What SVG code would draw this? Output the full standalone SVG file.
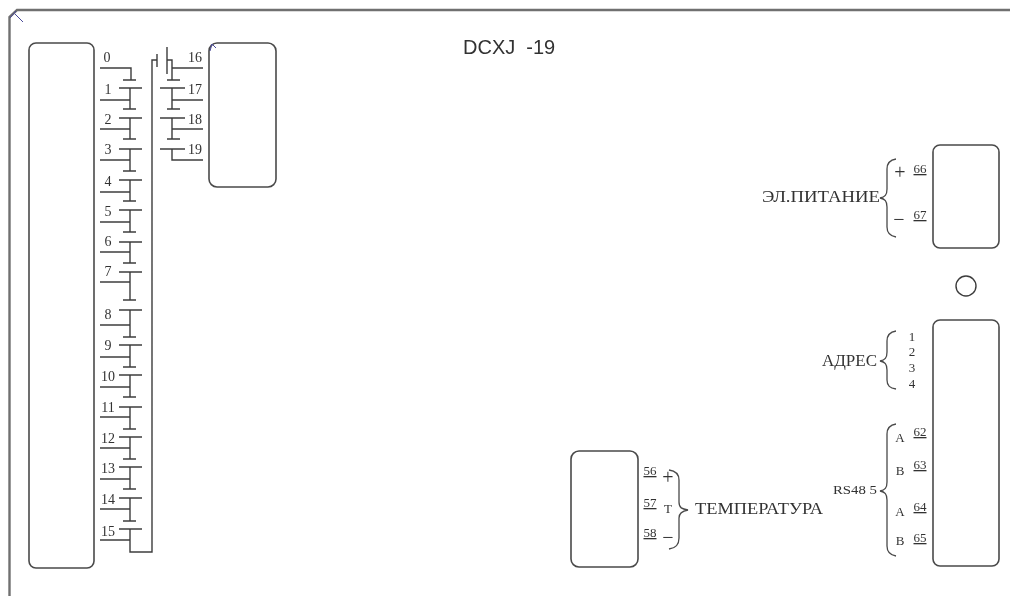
<svg xmlns="http://www.w3.org/2000/svg" width="1010" height="596" viewBox="0 0 1010 596">
<defs><filter id="soft" x="-2%" y="-2%" width="104%" height="104%"><feGaussianBlur stdDeviation="0.45"/></filter></defs>
<style>
.box{fill:#fff;stroke:#4a4a4a;stroke-width:1.6}
.w{fill:none;stroke:#3c3c3c;stroke-width:1.4}
.f{fill:none;stroke:#707070;stroke-width:2.4}
.b{fill:none;stroke:#4a4a4a;stroke-width:1.3}
.m{fill:none;stroke:#4a4a9a;stroke-width:1}
text{font-family:"Liberation Serif","Times New Roman",serif;fill:#333}
.n{font-size:14px}
.s{font-size:13px}
.t{font-size:16px}
.r{font-size:13px}
.p{font-size:20px}
</style>
<rect width="1010" height="596" fill="#fff"/>
<g filter="url(#soft)">
<g id="frame"><path class="f" d="M1010 10H17L9.500 17V596"/><path class="m" d="M10 18L16 11M15 14L23 22"/></g>
<g id="connectors">
<path class="w" d="M100 68H131V80M123 80H136
M119 88H142M130 88V109M100 100H130M123 109H136
M119 118H142M130 118V139M100 129H130M123 139H136
M119 149H142M130 149V171M100 160H130M123 171H136
M119 180H142M130 180V201M100 192H130M123 201H136
M119 210H142M130 210V232M100 222H130M123 232H136
M119 242H142M130 242V263M100 252H130M123 263H136
M119 272H142M130 272V300M100 282H130M123 300H136
M119 310H142M130 310V337M100 325H130M123 337H136
M119 345H142M130 345V367M100 357H130M123 367H136
M119 375H142M130 375V397M100 387H130M123 397H136
M119 407H142M130 407V429M100 417H130M123 429H136
M119 437H142M130 437V459M100 448H130M123 459H136
M119 467H142M130 467V489M100 479H130M123 489H136
M119 498H142M130 498V521M100 509H130M123 521H136
M119 529H142M100 540H130M130 529V552H152V60H157M157 54V67
M167 47V74M167 60H172V80M172 68H203M167 80H180
M160 88H185M172 88V109M172 100H203M167 109H180
M160 118H185M172 118V139M172 129H203M167 139H180
M160 149H185M172 149V160H203"/>
</g>
<g id="battery-labels">
<text class="n" x="107" y="62" text-anchor="middle">0</text>
<text class="n" x="108" y="94" text-anchor="middle">1</text>
<text class="n" x="108" y="124" text-anchor="middle">2</text>
<text class="n" x="108" y="154" text-anchor="middle">3</text>
<text class="n" x="108" y="186" text-anchor="middle">4</text>
<text class="n" x="108" y="216" text-anchor="middle">5</text>
<text class="n" x="108" y="246" text-anchor="middle">6</text>
<text class="n" x="108" y="276" text-anchor="middle">7</text>
<text class="n" x="108" y="319" text-anchor="middle">8</text>
<text class="n" x="108" y="350" text-anchor="middle">9</text>
<text class="n" x="108" y="381" text-anchor="middle">10</text>
<text class="n" x="108" y="412" text-anchor="middle">11</text>
<text class="n" x="108" y="443" text-anchor="middle">12</text>
<text class="n" x="108" y="473" text-anchor="middle">13</text>
<text class="n" x="108" y="504" text-anchor="middle">14</text>
<text class="n" x="108" y="536" text-anchor="middle">15</text>
<text class="n" x="195" y="62" text-anchor="middle">16</text>
<text class="n" x="195" y="94" text-anchor="middle">17</text>
<text class="n" x="195" y="124" text-anchor="middle">18</text>
<text class="n" x="195" y="154" text-anchor="middle">19</text>
</g>
<g id="box-left"><rect class="box" x="29" y="43" width="65" height="525" rx="7"/></g>
<g id="box-top"><rect class="box" x="209" y="43" width="67" height="144" rx="8"/><path class="m" d="M210 51L212 44L216 48"/></g>
<g id="box-power"><rect class="box" x="933" y="145" width="66" height="103" rx="7"/></g>
<g id="led"><circle cx="966" cy="286" r="10" fill="#fff" stroke="#3c3c3c" stroke-width="1.4"/></g>
<g id="box-addr"><rect class="box" x="933" y="320" width="66" height="246" rx="7"/></g>
<g id="box-temp"><rect class="box" x="571" y="451" width="67" height="116" rx="8"/></g>
<g id="title"><text x="463" y="54" style="font-family:'Liberation Sans',Arial,sans-serif;font-size:20px;fill:#333" xml:space="preserve">DCXJ  -19</text></g>
<g id="power-group">
<text class="t" x="762" y="202" textLength="118" lengthAdjust="spacingAndGlyphs">ЭЛ.ПИТАНИЕ</text>
<path class="b" d="M896 159C890 160 887 163 887 169V189C887 195 885 197 880 198C885 199 887 201 887 207V227C887 233 890 236 896 237"/>
<text class="p" x="900" y="179" text-anchor="middle">+</text>
<text class="p" x="899" y="226" text-anchor="middle">−</text>
<text class="s" x="920" y="173" text-anchor="middle" text-decoration="underline">66</text>
<text class="s" x="920" y="219" text-anchor="middle" text-decoration="underline">67</text>
</g>
<g id="addr-group">
<text class="t" x="822" y="366" textLength="55" lengthAdjust="spacingAndGlyphs">АДРЕС</text>
<path class="b" d="M896 331C890 332 887 335 887 341V352C887 358 885 360 880 361C885 362 887 364 887 370V380C887 386 890 388 896 389"/>
<text class="s" x="912" y="341" text-anchor="middle">1</text><text class="s" x="912" y="356" text-anchor="middle">2</text><text class="s" x="912" y="372" text-anchor="middle">3</text><text class="s" x="912" y="388" text-anchor="middle">4</text>
</g>
<g id="rs485-group">
<text class="r" x="833" y="494" textLength="44" lengthAdjust="spacingAndGlyphs">RS48 5</text>
<path class="b" d="M896 424C890 425 887 428 887 434V482C887 488 885 490 880 491C885 492 887 494 887 500V546C887 552 890 555 896 556"/>
<text class="r" x="900" y="442" text-anchor="middle">A</text><text class="r" x="900" y="475" text-anchor="middle">B</text><text class="r" x="900" y="516" text-anchor="middle">A</text><text class="r" x="900" y="545" text-anchor="middle">B</text>
<text class="s" x="920" y="436" text-anchor="middle" text-decoration="underline">62</text>
<text class="s" x="920" y="469" text-anchor="middle" text-decoration="underline">63</text>
<text class="s" x="920" y="511" text-anchor="middle" text-decoration="underline">64</text>
<text class="s" x="920" y="542" text-anchor="middle" text-decoration="underline">65</text>
</g>
<g id="temp-group">
<text class="s" x="650" y="475" text-anchor="middle" text-decoration="underline">56</text>
<text class="s" x="650" y="507" text-anchor="middle" text-decoration="underline">57</text>
<text class="s" x="650" y="537" text-anchor="middle" text-decoration="underline">58</text>
<text class="p" x="668" y="484" text-anchor="middle">+</text>
<text class="r" x="668" y="513" text-anchor="middle">T</text>
<text class="p" x="668" y="544" text-anchor="middle">−</text>
<path class="b" d="M669 470C676 471 679 474 679 480V502C679 508 682 509 688 510C682 511 679 513 679 518V538C679 545 676 548 669 549"/>
<text class="t" x="695" y="514" textLength="128" lengthAdjust="spacingAndGlyphs">ТЕМПЕРАТУРА</text>
</g>
</g>
</svg>
